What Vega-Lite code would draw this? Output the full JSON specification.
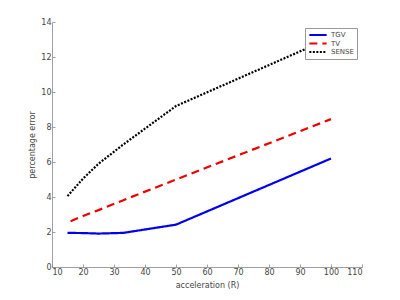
{
  "$schema": "https://vega.github.io/schema/vega-lite/v6.json",
  "width": 310,
  "height": 245,
  "autosize": "none",
  "padding": {"left": 52, "top": 22, "right": 38, "bottom": 33},
  "background": "white",
  "config": {
    "font": "DejaVu Sans",
    "view": {"stroke": null},
    "axis": {"grid": false, "domainColor": "#888888", "tickColor": "#888888", "labelColor": "#444444", "titleColor": "#444444", "labelFontSize": 8, "titleFontSize": 8, "titleFontWeight": "normal", "tickSize": -3, "labelPadding": 4, "domainWidth": 0.8, "tickWidth": 0.8}
  },
  "data": {
    "values": [
      {"R": 15, "err": 1.95, "method": "TGV"},
      {"R": 20, "err": 1.94, "method": "TGV"},
      {"R": 25, "err": 1.91, "method": "TGV"},
      {"R": 33, "err": 1.95, "method": "TGV"},
      {"R": 50, "err": 2.42, "method": "TGV"},
      {"R": 100, "err": 6.2, "method": "TGV"},
      {"R": 16, "err": 2.62, "method": "TV"},
      {"R": 20, "err": 2.92, "method": "TV"},
      {"R": 25, "err": 3.25, "method": "TV"},
      {"R": 33, "err": 3.82, "method": "TV"},
      {"R": 50, "err": 5.0, "method": "TV"},
      {"R": 100, "err": 8.45, "method": "TV"},
      {"R": 15, "err": 4.05, "method": "SENSE"},
      {"R": 20, "err": 5.05, "method": "SENSE"},
      {"R": 25, "err": 5.9, "method": "SENSE"},
      {"R": 33, "err": 7.0, "method": "SENSE"},
      {"R": 50, "err": 9.2, "method": "SENSE"},
      {"R": 100, "err": 13.1, "method": "SENSE"}
    ]
  },
  "mark": {"type": "line", "strokeWidth": 2.2},
  "encoding": {
    "x": {"field": "R", "type": "quantitative", "title": "acceleration (R)", "scale": {"domain": [10, 110], "nice": false}, "axis": {"values": [10,20,30,40,50,60,70,80,90,100,110], "titlePadding": 5}},
    "y": {"field": "err", "type": "quantitative", "title": "percentage error", "scale": {"domain": [0, 14], "nice": false}, "axis": {"values": [0,2,4,6,8,10,12,14], "titlePadding": 4}},
    "color": {"field": "method", "type": "nominal", "scale": {"domain": ["TGV", "TV", "SENSE"], "range": ["#0000ee", "#ee0000", "#000000"]},
      "legend": {"title": null, "orient": "none", "legendX": 253, "legendY": 6, "symbolType": "stroke", "symbolSize": 300, "symbolStrokeWidth": 2, "clipHeight": 8, "labelFontSize": 7, "labelColor": "#444444", "strokeColor": "#999999", "padding": 3, "rowPadding": 0.5, "labelOffset": 3, "fillColor": "white"}},
    "strokeDash": {"field": "method", "type": "nominal", "scale": {"domain": ["TGV", "TV", "SENSE"], "range": [[1, 0], [8, 5], [2, 1.5]]}, "legend": null}
  }
}
